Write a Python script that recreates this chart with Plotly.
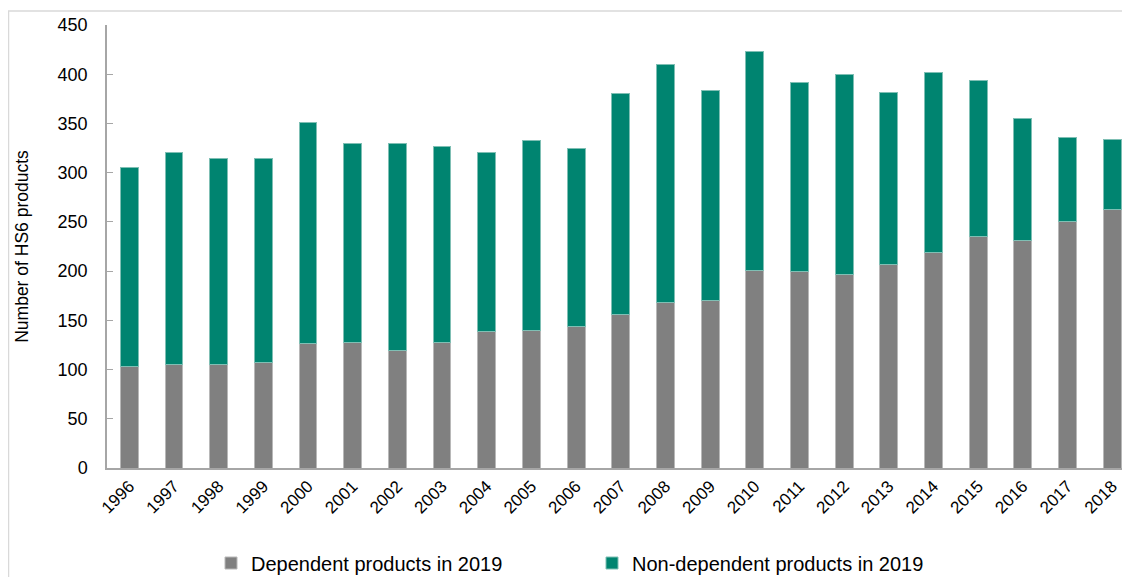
import plotly.graph_objects as go

years = [str(y) for y in range(1996, 2019)]
dependent = [103, 105, 105, 107, 126, 127, 119, 127, 139, 140, 144, 156, 168, 170,
             201, 200, 197, 207, 219, 235, 231, 250, 263]
non_dependent = [202, 215, 209, 207, 225, 203, 211, 200, 181, 193, 181, 224, 242, 213,
                 222, 192, 203, 174, 183, 159, 124, 86, 71]
y_ticks = [0, 50, 100, 150, 200, 250, 300, 350, 400, 450]

FONT = "Liberation Sans, Arial, sans-serif"
GRAY = "#808080"
TEAL = "#008470"

fig = go.Figure()
fig.add_trace(go.Bar(x=years, y=dependent, name="Dependent products in 2019",
                     marker=dict(color=GRAY, line=dict(color="#b8b8b8", width=1))))
fig.add_trace(go.Bar(x=years, y=non_dependent, name="Non-dependent products in 2019",
                     marker=dict(color=TEAL, line=dict(color="#7fbfb4", width=1))))

# page has an 8px body margin; work in figure coordinates (reference - 8)
OFF = 8
W, H = 1130 - OFF, 577 - OFF
L = 107 - OFF
T = 25 - OFF
PB = 468 - OFF          # plot bottom in figure px
B = H - PB
pw = W - L
ph = PB - T

fig.update_layout(
    barmode="stack",
    bargap=0.6,
    width=W, height=H,
    margin=dict(l=L, r=0, t=T, b=B, autoexpand=False),
    plot_bgcolor="white",
    paper_bgcolor="white",
    font=dict(family=FONT, size=18, color="#000000"),
    showlegend=True,
    legend=dict(orientation="h", x=(211 - OFF - L) / pw, xanchor="left",
                y=-((563 - OFF) - PB) / ph, yanchor="middle",
                font=dict(family=FONT, size=20, color="#000000"),
                entrywidth=336, traceorder="normal", itemwidth=30,
                bgcolor="rgba(0,0,0,0)"),
    xaxis=dict(type="category", range=[-0.5, 22.4], showline=True,
               linecolor="#a6a6a6", linewidth=1.5, ticks="", tickangle=-45,
               tickfont=dict(family=FONT, size=17), showgrid=False, fixedrange=True),
    yaxis=dict(range=[0, 450], tickvals=y_ticks, showline=True, linecolor="#a6a6a6",
               linewidth=1.5, ticks="inside", ticklen=6, tickcolor="#a6a6a6",
               showgrid=False, zeroline=False, ticklabelstandoff=14,
               tickfont=dict(family=FONT, size=18),
               title=dict(text="Number of HS6 products", standoff=24,
                          font=dict(family=FONT, size=17.5))),
    shapes=[dict(type="rect", xref="paper", yref="paper",
                 x0=(0.5 - L) / pw, x1=1.05, y0=-0.6, y1=1 + (T - 3) / ph,
                 line=dict(color="#d9d9d9", width=1.5), layer="below")],
)

fig.write_html("out.html")
